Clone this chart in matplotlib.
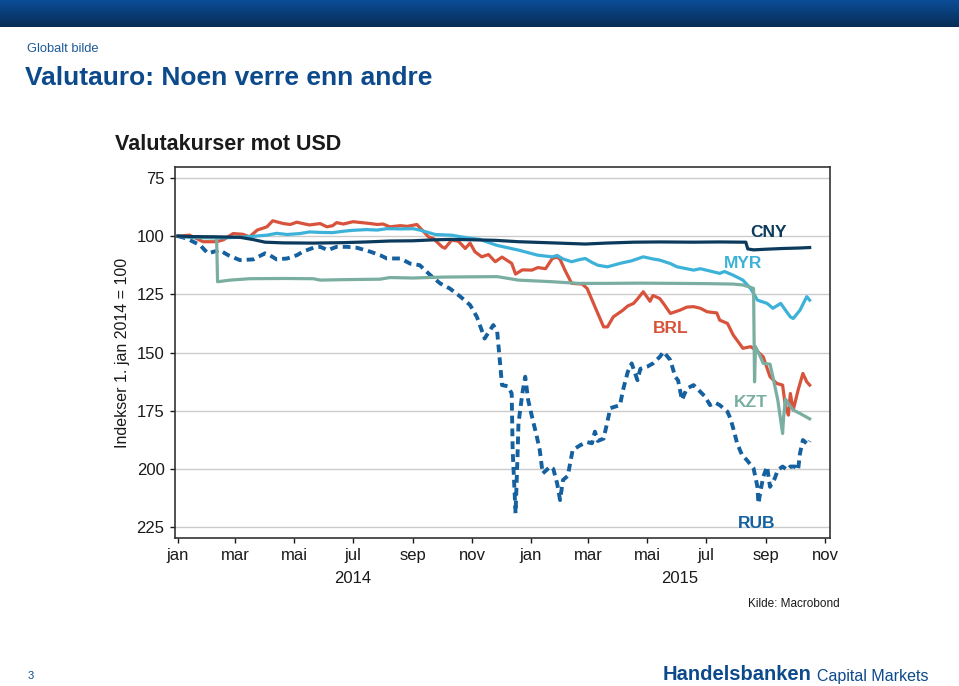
import numpy as np
import pandas as pd
import matplotlib
matplotlib.use("Agg")
import matplotlib.pyplot as plt
import matplotlib.dates as mdates
from matplotlib.transforms import blended_transform_factory

plt.rcParams['font.family'] = ['Liberation Sans', 'DejaVu Sans']

# Indekser 1. jan 2014 = 100 (lest av grafen)
cny_dates = ['2014-01-01', '2014-01-15', '2014-02-10', '2014-03-06', '2014-03-20', '2014-04-01',
             '2014-04-20', '2014-05-21', '2014-06-21', '2014-07-15', '2014-08-08', '2014-09-01',
             '2014-09-22', '2014-10-11', '2014-11-04', '2014-11-25', '2014-12-19', '2015-01-23',
             '2015-02-26', '2015-03-19', '2015-04-17', '2015-05-14', '2015-06-18', '2015-07-15',
             '2015-08-08', '2015-08-11', '2015-08-13', '2015-08-19', '2015-09-02', '2015-09-19',
             '2015-10-06', '2015-10-16']
cny_vals = [100.0, 100.2, 100.3, 100.5, 101.5, 102.6,
            102.9, 103.0, 102.8, 102.5, 102.1, 102.0,
            101.6, 101.4, 101.6, 101.8, 102.4, 102.9,
            103.4, 103.0, 102.6, 102.5, 102.6, 102.5,
            102.6, 102.6, 105.5, 105.9, 105.6, 105.3,
            105.1, 104.9]

myr_dates = ['2014-01-01', '2014-01-15', '2014-02-10', '2014-03-06', '2014-03-16', '2014-04-03',
             '2014-04-13', '2014-04-24', '2014-05-07', '2014-05-17', '2014-05-28', '2014-06-10',
             '2014-06-21', '2014-07-01', '2014-07-15', '2014-07-26', '2014-08-05', '2014-08-19',
             '2014-09-01', '2014-09-08', '2014-09-24', '2014-10-11', '2014-10-28', '2014-11-09',
             '2014-11-27', '2014-12-19', '2015-01-08', '2015-01-23', '2015-01-28', '2015-02-03',
             '2015-02-12', '2015-02-19', '2015-02-26', '2015-03-05', '2015-03-11', '2015-03-21',
             '2015-04-03', '2015-04-15', '2015-04-27', '2015-05-07', '2015-05-14', '2015-05-25',
             '2015-06-01', '2015-06-18', '2015-06-25', '2015-07-08', '2015-07-15', '2015-07-20',
             '2015-07-29', '2015-08-08', '2015-08-16', '2015-08-23', '2015-09-02', '2015-09-08',
             '2015-09-16', '2015-09-26', '2015-09-29', '2015-10-06', '2015-10-13', '2015-10-16']
myr_vals = [100.0, 100.6, 100.8, 100.5, 100.2, 99.6,
            98.8, 99.3, 98.9, 98.2, 98.4, 98.5,
            97.9, 97.5, 97.2, 97.4, 96.8, 96.9,
            96.8, 97.4, 99.3, 99.6, 100.8, 101.4,
            104.0, 106.0, 108.2, 108.9, 108.3, 109.8,
            111.0, 110.2, 109.6, 111.3, 112.5, 113.2,
            111.7, 110.6, 108.9, 109.8, 110.3, 111.8,
            113.2, 114.6, 114.0, 115.3, 116.0, 115.2,
            116.8, 118.9, 122.5, 127.5, 128.9, 131.0,
            128.9, 134.7, 135.4, 131.8, 126.0, 127.5]

brl_dates = ['2014-01-01', '2014-01-13', '2014-01-27', '2014-02-10', '2014-02-17', '2014-02-27',
             '2014-03-09', '2014-03-16', '2014-03-24', '2014-04-03', '2014-04-09', '2014-04-20',
             '2014-04-27', '2014-05-04', '2014-05-10', '2014-05-17', '2014-05-28', '2014-06-04',
             '2014-06-10', '2014-06-14', '2014-06-21', '2014-07-01', '2014-07-10', '2014-07-19',
             '2014-07-26', '2014-08-01', '2014-08-08', '2014-08-19', '2014-08-26', '2014-09-05',
             '2014-09-17', '2014-09-22', '2014-10-01', '2014-10-04', '2014-10-11', '2014-10-18',
             '2014-10-25', '2014-10-30', '2014-11-04', '2014-11-11', '2014-11-18', '2014-11-25',
             '2014-12-02', '2014-12-12', '2014-12-16', '2014-12-23', '2015-01-02', '2015-01-08',
             '2015-01-16', '2015-01-23', '2015-01-28', '2015-01-31', '2015-02-05', '2015-02-12',
             '2015-02-23', '2015-02-28', '2015-03-08', '2015-03-17', '2015-03-21', '2015-03-27',
             '2015-04-06', '2015-04-11', '2015-04-17', '2015-04-21', '2015-04-27', '2015-05-04',
             '2015-05-07', '2015-05-14', '2015-05-18', '2015-05-25', '2015-06-04', '2015-06-11',
             '2015-06-18', '2015-06-25', '2015-07-02', '2015-07-12', '2015-07-15', '2015-07-23',
             '2015-07-29', '2015-08-08', '2015-08-16', '2015-08-23', '2015-08-29', '2015-09-05',
             '2015-09-12', '2015-09-18', '2015-09-21', '2015-09-24', '2015-09-26', '2015-09-29',
             '2015-10-04', '2015-10-09', '2015-10-13', '2015-10-16']
brl_vals = [100.0, 99.6, 102.4, 102.4, 101.6, 98.9,
            99.2, 100.3, 97.4, 96.0, 93.4, 94.6,
            95.0, 94.0, 94.6, 95.2, 94.6, 96.0,
            95.5, 94.2, 94.8, 93.8, 94.2, 94.6,
            95.0, 94.8, 96.0, 95.5, 95.8, 95.0,
            100.3, 101.0, 104.6, 105.2, 101.7, 102.2,
            105.3, 103.0, 106.7, 108.9, 107.9, 111.0,
            109.0, 111.7, 116.3, 114.5, 114.6, 113.5,
            114.0, 109.6, 109.0, 110.0, 114.6, 120.3,
            120.6, 122.5, 130.3, 139.0, 139.0, 134.7,
            131.8, 130.0, 128.9, 127.0, 123.9, 128.0,
            125.5, 126.8, 129.0, 133.2, 131.8, 130.5,
            130.3, 131.0, 132.5, 133.0, 136.1, 137.5,
            142.5, 148.2, 147.5, 149.5, 151.9, 160.4,
            163.3, 164.0, 173.3, 176.9, 167.6, 174.7,
            166.2, 159.0, 162.6, 164.0]

kzt_dates = ['2014-01-01', '2014-01-20', '2014-02-10', '2014-02-11', '2014-02-24', '2014-03-16',
             '2014-04-20', '2014-05-21', '2014-05-28', '2014-06-21', '2014-07-29', '2014-08-08',
             '2014-09-01', '2014-10-01', '2014-10-28', '2014-11-27', '2014-12-19', '2015-01-23',
             '2015-02-19', '2015-03-19', '2015-04-24', '2015-05-30', '2015-06-30', '2015-07-29',
             '2015-08-08', '2015-08-16', '2015-08-19', '2015-08-20', '2015-08-21', '2015-08-26',
             '2015-08-29', '2015-09-05', '2015-09-08', '2015-09-13', '2015-09-16', '2015-09-18',
             '2015-09-19', '2015-09-21', '2015-09-24', '2015-09-29', '2015-10-06', '2015-10-16']
kzt_vals = [100.0, 100.4, 100.6, 119.6, 118.9, 118.3,
            118.2, 118.3, 118.9, 118.7, 118.5, 117.8,
            118.0, 117.6, 117.5, 117.4, 118.9, 119.6,
            120.3, 120.3, 120.2, 120.3, 120.4, 120.6,
            121.0, 122.0, 122.5, 162.6, 147.5, 151.8,
            154.7, 155.0, 160.5, 170.4, 179.0, 184.8,
            178.0, 170.0, 172.0, 174.7, 176.2, 178.5]

rub_dates = ['2014-01-01', '2014-01-10', '2014-01-24', '2014-02-01', '2014-02-13', '2014-02-22',
             '2014-03-06', '2014-03-20', '2014-03-25', '2014-04-01', '2014-04-06', '2014-04-13',
             '2014-04-24', '2014-05-04', '2014-05-10', '2014-05-21', '2014-05-28', '2014-06-05',
             '2014-06-14', '2014-06-25', '2014-07-05', '2014-07-19', '2014-07-29', '2014-08-05',
             '2014-08-19', '2014-08-29', '2014-09-08', '2014-09-19', '2014-09-29', '2014-10-09',
             '2014-10-20', '2014-10-30', '2014-11-06', '2014-11-11', '2014-11-14', '2014-11-23',
             '2014-11-27', '2014-11-30', '2014-12-02', '2014-12-08', '2014-12-12', '2014-12-13',
             '2014-12-16', '2014-12-18', '2014-12-19', '2014-12-23', '2014-12-26', '2014-12-29',
             '2015-01-02', '2015-01-07', '2015-01-10', '2015-01-13', '2015-01-21', '2015-01-24',
             '2015-01-28', '2015-01-31', '2015-02-03', '2015-02-08', '2015-02-13', '2015-02-21',
             '2015-02-28', '2015-03-05', '2015-03-08', '2015-03-11', '2015-03-17', '2015-03-24',
             '2015-04-03', '2015-04-06', '2015-04-11', '2015-04-15', '2015-04-21', '2015-04-24',
             '2015-05-01', '2015-05-07', '2015-05-14', '2015-05-18', '2015-05-25', '2015-05-30',
             '2015-06-02', '2015-06-06', '2015-06-11', '2015-06-18', '2015-06-25', '2015-06-30',
             '2015-07-05', '2015-07-10', '2015-07-15', '2015-07-23', '2015-07-26', '2015-07-29',
             '2015-08-02', '2015-08-07', '2015-08-12', '2015-08-19', '2015-08-23', '2015-08-24',
             '2015-08-26', '2015-08-29', '2015-09-02', '2015-09-05', '2015-09-10', '2015-09-13',
             '2015-09-18', '2015-09-23', '2015-09-26', '2015-10-01', '2015-10-04', '2015-10-06',
             '2015-10-09', '2015-10-14', '2015-10-16']
rub_vals = [100.0, 101.0, 103.9, 107.4, 106.0, 108.2,
            110.3, 110.0, 108.9, 107.4, 108.2, 110.0,
            109.6, 108.2, 106.7, 105.0, 104.6, 106.0,
            104.6, 104.6, 105.0, 106.7, 108.2, 109.6,
            109.6, 111.8, 112.5, 116.8, 120.3, 122.5,
            126.0, 129.6, 134.7, 140.4, 144.0, 138.2,
            141.0, 154.7, 164.0, 164.5, 167.6, 191.9,
            219.1, 194.8, 180.5, 167.6, 160.4, 170.4,
            177.6, 186.2, 191.9, 202.0, 199.0, 200.0,
            206.3, 213.4, 204.8, 203.0, 191.9, 189.8,
            188.5, 189.0, 184.0, 188.0, 187.0, 173.9,
            172.6, 166.2, 158.3, 154.7, 161.9, 157.0,
            156.1, 154.7, 151.9, 149.7, 153.3, 160.4,
            162.0, 170.4, 165.5, 164.0, 166.9, 169.0,
            172.6, 171.5, 172.6, 175.4, 178.3, 182.6,
            189.0, 194.0, 196.2, 199.8, 207.7, 214.9,
            210.0, 203.4, 199.0, 207.7, 204.0, 200.5,
            199.0, 200.5, 199.0, 199.0, 200.5, 193.3,
            187.6, 189.5, 188.0]

month_names = ['jan', 'feb', 'mar', 'apr', 'mai', 'jun', 'jul', 'aug', 'sep', 'okt', 'nov', 'des']

c_cny = '#0b3a5d'
c_myr = '#3db2d8'
c_brl = '#d8533c'
c_kzt = '#7aaea0'
c_rub = '#15609e'
c_head = '#0d4a8c'

fig = plt.figure(figsize=(9.59, 6.86), dpi=100)

# toppbanner med gradient
band = fig.add_axes([0, 1 - 27 / 686, 1, 27 / 686])
grad = np.linspace(0, 1, 50).reshape(-1, 1)
cmap = matplotlib.colors.LinearSegmentedColormap.from_list('band', ['#0b4d98', '#072d55'])
band.imshow(grad, aspect='auto', cmap=cmap, extent=[0, 1, 0, 1])
band.axis('off')

fig.text(27 / 959, 1 - 49 / 686, 'Globalt bilde', fontsize=9.3, color='#1f5a9a', va='center')
fig.text(25 / 959, 1 - 78 / 686, 'Valutauro: Noen verre enn andre', fontsize=19,
         fontweight='bold', color=c_head, va='center')
fig.text(115 / 959, 1 - 145 / 686, 'Valutakurser mot USD', fontsize=15.5,
         fontweight='bold', color='#1a1a1a', va='center')

ax = fig.add_axes([175 / 959, 1 - 538 / 686, 655 / 959, 371 / 686])

def d(lst):
    return pd.to_datetime(lst)

ax.plot(d(rub_dates), rub_vals, color=c_rub, lw=2.8, dashes=(2.0, 1.3), solid_capstyle='butt')
ax.plot(d(brl_dates), brl_vals, color=c_brl, lw=2.3)
ax.plot(d(myr_dates), myr_vals, color=c_myr, lw=2.3)
ax.plot(d(kzt_dates), kzt_vals, color=c_kzt, lw=2.3)
ax.plot(d(cny_dates), cny_vals, color=c_cny, lw=2.3)

ax.set_ylim(229.7, 70.3)
ax.set_xlim(pd.Timestamp('2013-12-29'), pd.Timestamp('2015-11-06'))
ax.set_yticks([75, 100, 125, 150, 175, 200, 225])
ax.grid(axis='y', color='#cccccc', lw=1)
ax.set_axisbelow(True)

ax.xaxis.set_major_locator(mdates.MonthLocator(bymonth=[1, 3, 5, 7, 9, 11]))
ax.xaxis.set_major_formatter(plt.FuncFormatter(
    lambda x, pos: month_names[mdates.num2date(x).month - 1]))
ax.tick_params(axis='both', labelsize=12, colors='#1a1a1a', length=3.5, width=1, direction='out')
ax.tick_params(axis='x', pad=3.5)
ax.tick_params(axis='y', pad=4)
for s in ax.spines.values():
    s.set_color('#333333')
    s.set_linewidth(1.2)

ax.set_ylabel('Indekser 1. jan 2014 = 100', fontsize=11.5, color='#1a1a1a', labelpad=5)

tr = blended_transform_factory(ax.transData, ax.transAxes)
ax.text(pd.Timestamp('2014-07-01'), -0.108, '2014', transform=tr, ha='center', va='center',
        fontsize=12, color='#1a1a1a')
ax.text(pd.Timestamp('2015-06-04'), -0.108, '2015', transform=tr, ha='center', va='center',
        fontsize=12, color='#1a1a1a')

# seriemerker
ax.text(pd.Timestamp('2015-09-03'), 98.3, 'CNY', color=c_cny, fontsize=12.5, fontweight='bold',
        ha='center', va='center')
ax.text(pd.Timestamp('2015-08-08'), 111.6, 'MYR', color=c_myr, fontsize=12.5, fontweight='bold',
        ha='center', va='center')
ax.text(pd.Timestamp('2015-05-25'), 139.5, 'BRL', color=c_brl, fontsize=12.5, fontweight='bold',
        ha='center', va='center')
ax.text(pd.Timestamp('2015-08-16'), 171.3, 'KZT', color=c_kzt, fontsize=12.5, fontweight='bold',
        ha='center', va='center')
ax.text(pd.Timestamp('2015-08-22'), 223.3, 'RUB', color=c_rub, fontsize=12.5, fontweight='bold',
        ha='center', va='center')

fig.text(840 / 959, 1 - 604 / 686, 'Kilde: Macrobond', fontsize=8.5, color='#1a1a1a',
         ha='right', va='center')

fig.text(31 / 959, 1 - 676 / 686, '3', fontsize=8, color=c_head, ha='center', va='center')
fig.text(812 / 959, 1 - 675 / 686, 'Handelsbanken', fontsize=14.5, fontweight='bold',
         color=c_head, ha='right', va='center')
fig.text(817 / 959, 1 - 677 / 686, 'Capital Markets', fontsize=11.5, color=c_head,
         ha='left', va='center')

plt.savefig('out.png', dpi=100)
